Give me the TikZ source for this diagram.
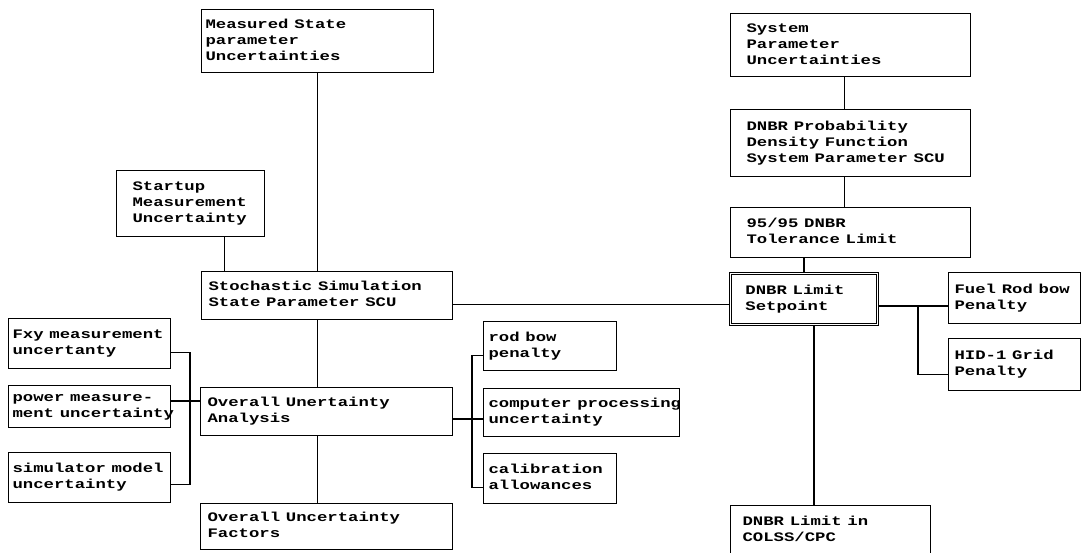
\documentclass[tikz,border=0pt]{standalone}
\usepackage{fontspec}
\usepackage{graphicx}
\usepackage{tikz}
\newfontfamily\typefont{Liberation Mono}
\newcommand{\boxtype}{\typefont\bfseries\fontsize{13}{16}\selectfont}
\newcommand{\tx}[1]{\scalebox{1.33}[1]{\begin{tabular}{@{}l@{}}#1\end{tabular}}}% wide typewriter lines
\tikzset{
	ubox/.code n args={3}{\pgfmathsetmacro\bxtw{#1-2*#3}%  width, height, text indent
		\pgfkeysalso{draw, anchor=north west, align=left, inner ysep=0pt,
			minimum width=#1pt, minimum height=#2pt, inner xsep=#3pt,
			text width/.expanded=\bxtw pt, font=\boxtype}},
	setbox/.style={double, double distance=1.6pt, line width=0.9pt}
}

\begin{document}
\begin{tikzpicture}[x=1pt,y=-1pt,line width=1.1pt]
	\useasboundingbox (0,0) rectangle (1087,553);
	
	%left column
	\node[ubox={232}{63}{4}] (meas) at (201,9) 		{\tx{Measured State\\parameter\\Uncertainties}};
	\node[ubox={148}{66}{16}] (startup) at (116,170)	{\tx{Startup\\Measurement\\Uncertainty}};
	\node[ubox={251}{48}{7}] (stoch) at (201,271) 	{\tx{Stochastic Simulation\\State Parameter SCU}};
	\node[ubox={252}{48}{7}] (overall) at (200,387) 	{\tx{Overall Unertainty\\Analysis}};
	\node[ubox={252}{46}{7}] (factors) at (200,503) 	{\tx{Overall Uncertainty\\Factors}};
	%
	\node[ubox={162}{50}{4}] (fxy) at (8,318) 		{\tx{Fxy measurement\\uncertanty}};
	\node[ubox={162}{42}{4}] (power) at (8,385) 		{\tx{power measure-\\ment uncertainty}};
	\node[ubox={162}{50}{4}] (sim) at (8,452) 		{\tx{simulator model\\uncertainty}};
	%
	\node[ubox={133}{49}{5}] (rodbow) at (483,321) 	{\tx{rod bow\\penalty}};
	\node[ubox={196}{48}{5}] (comp) at (483,388) 		{\tx{computer processing\\uncertainty}};
	\node[ubox={133}{50}{5}] (calib) at (483,453) 	{\tx{calibration\\allowances}};
	
	%right column
	\node[ubox={240}{63}{16}] (sys) at (730,13) 		{\tx{System\\Parameter\\Uncertainties}};
	\node[ubox={240}{67}{16}] (pdf) at (730,109) 		{\tx{DNBR Probability\\Density Function\\System Parameter SCU}};
	\node[ubox={240}{50}{16}] (ttl) at (730,207) 		{\tx{95/95 DNBR\\Tolerance Limit}};
	\node[ubox={147}{51}{15},setbox] (setp) at (730,273) {\tx{DNBR Limit\\Setpoint}};
	\node[ubox={132}{51}{6}] (fuel) at (948,272) 		{\tx{Fuel Rod bow\\Penalty}};
	\node[ubox={132}{52}{6}] (hid) at (948,338) 		{\tx{HID-1 Grid\\Penalty}};
	\node[ubox={200}{50}{12}] (colss) at (730,505) 	{\tx{DNBR Limit in\\COLSS/CPC}};
	
	%joints
	\coordinate (lj) at (190,401);
	\coordinate (mj) at (472,419);
	\coordinate (rj) at (918,306);
	
	%connectors, left
	\draw (meas.south) -- (meas.south |- stoch.north);
	\draw ([xshift=-41pt]startup.south east) -- ([xshift=-41pt]startup.south east |- stoch.north);
	\draw (stoch.south -| meas.south) -- (overall.north -| meas.south);
	\draw (overall.south -| meas.south) -- (factors.north -| meas.south);
	\draw ([yshift=-9pt]stoch.east) -- ([yshift=-9pt]stoch.east -| setp.west);
	\draw ([yshift=-9pt]fxy.east) -| ([yshift=-7pt]sim.east -| lj) -- ([yshift=-7pt]sim.east);
	\draw (power.east |- lj) -- (overall.west |- lj);
	\draw (overall.east |- mj) -- (comp.west |- mj);
	\draw ([yshift=-9pt]rodbow.west) -| ([yshift=-9pt]calib.west -| mj) -- ([yshift=-9pt]calib.west);
	
	%connectors, right
	\draw ([xshift=-6pt]sys.south) -- ([xshift=-6pt]pdf.north);
	\draw ([xshift=-6pt]pdf.south) -- ([xshift=-6pt]ttl.north);
	\draw (ttl.south -| setp.north) -- (setp.north);
	\draw ([xshift=10pt]setp.south) -- ([xshift=10pt]setp.south |- colss.north);
	\draw (setp.east |- rj) -- (fuel.west |- rj);
	\draw (rj) |- ([yshift=-10pt]hid.west);
\end{tikzpicture}
\end{document}
